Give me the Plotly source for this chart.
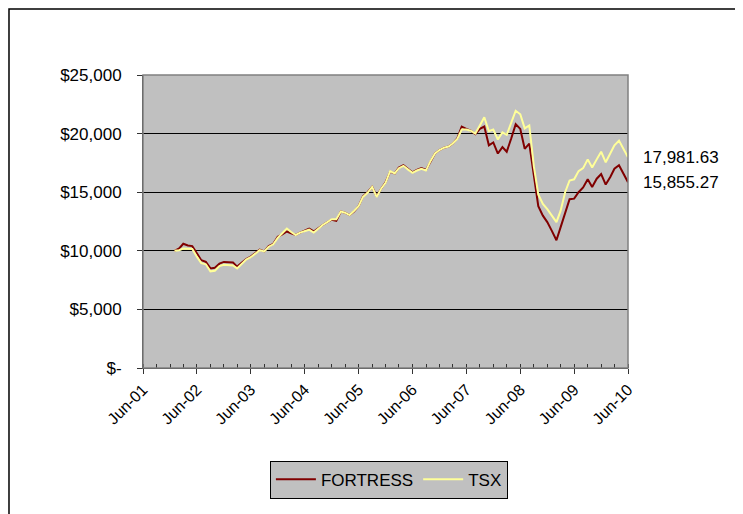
import plotly.graph_objects as go
import pandas as pd

start_month = "2002-01-01"
fortress = [10000, 10200, 10600, 10450, 10400, 9800, 9200, 9050, 8500, 8550, 8900, 9050,
            9000, 9000, 8650, 9000, 9300, 9500, 9800, 10100, 9950, 10400, 10600, 11200,
            11400, 11650, 11500, 11350, 11550, 11750, 11900, 11650, 11950, 12200, 12450, 12650,
            12550, 13350, 13250, 13050, 13350, 13800, 14650, 15000, 15450, 14650, 15300, 15850,
            16750, 16600, 17100, 17300, 17000, 16700, 16900, 17050, 16900, 17650, 18300, 18600,
            18800, 18900, 19150, 19600, 20600, 20400, 20250, 19950, 20400, 20600, 19000, 19250,
            18300, 18850, 18450, 19600, 20800, 20400, 18700, 19150, 16200, 13800, 13000, 12450,
            11700, 10900, 12000, 13300, 14400, 14450, 15000, 15400, 16100, 15450, 16150, 16550,
            15650, 16300, 17000, 17300, 16600, 15855.27]
tsx = [10000, 10050, 10200, 10150, 10150, 9500, 8950, 8850, 8250, 8300, 8700, 8800,
       8800, 8750, 8500, 8850, 9250, 9450, 9750, 10050, 9950, 10350, 10550, 11100,
       11500, 11900, 11600, 11350, 11550, 11700, 11800, 11550, 11900, 12200, 12450, 12700,
       12700, 13350, 13250, 13050, 13400, 13800, 14600, 14950, 15450, 14600, 15300, 15800,
       16800, 16600, 17050, 17250, 16950, 16650, 16850, 17000, 16850, 17650, 18300, 18600,
       18800, 18900, 19150, 19550, 20350, 20350, 20250, 20000, 20700, 21400, 20200, 20350,
       19500, 20100, 19900, 21000, 21950, 21650, 20450, 20700, 17200, 14800, 14000, 13550,
       13000, 12450, 13400, 15000, 16000, 16100, 16800, 17050, 17800, 17100, 17800, 18450,
       17550, 18350, 19000, 19400, 18700, 17981.63]
series_names = ["FORTRESS", "TSX"]
series_colors = ["#800000", "#FFFF99"]
y_ticks = [0, 5000, 10000, 15000, 20000, 25000]
y_labels = ["$-", "$5,000", "$10,000", "$15,000", "$20,000", "$25,000"]
x_tick_years = list(range(2001, 2011))

dates = pd.date_range(start_month, periods=len(fortress), freq="MS")

fig = go.Figure()
for name, vals, col in zip(series_names, [fortress, tsx], series_colors):
    fig.add_trace(go.Scatter(x=dates, y=vals, mode="lines", name=name,
                             line=dict(color=col, width=2)))

for vals in [tsx, fortress]:
    fig.add_annotation(xref="paper", yref="y", x=1.026, y=vals[-1],
                       text=f"{vals[-1]:,.2f}", showarrow=False, xanchor="left",
                       yanchor="middle", font=dict(size=17, color="black"))

# outer chart border
fig.add_shape(type="rect", xref="paper", yref="paper", x0=-0.2763, x1=1.2268,
              y0=-0.56, y1=1.2253, line=dict(color="black", width=1.5), layer="below")

tickvals = [f"{y}-06-01" for y in x_tick_years]
ticktext = [f"Jun-{str(y)[2:]}" for y in x_tick_years]

fig.update_layout(
    width=735, height=506,
    margin=dict(l=135, r=115, t=67, b=146),
    paper_bgcolor="white", plot_bgcolor="#C0C0C0",
    font=dict(family="Liberation Sans, Arial", size=16, color="black"),
    showlegend=True,
    legend=dict(orientation="h", x=0.507, xanchor="center", y=-0.381, yanchor="middle",
                bgcolor="#C0C0C0", bordercolor="black", borderwidth=1,
                font=dict(size=17), itemwidth=40, tracegroupgap=0),
    xaxis=dict(type="date", range=["2001-06-01", "2010-06-01"],
               tickvals=tickvals, ticktext=ticktext, tickangle=-45,
               ticks="outside", ticklen=5, tickcolor="#333", showgrid=False,
               showline=True, linecolor="#333", linewidth=1, zeroline=False,
               tickfont=dict(size=16),
               minor=dict(dtick="M3", tick0="2001-06-01", ticks="inside", ticklen=4,
                          tickcolor="#333", showgrid=False)),
    yaxis=dict(range=[0, 25000], tickvals=y_ticks, ticktext=y_labels,
               ticks="outside", ticklen=5, tickcolor="#333", showgrid=True,
               gridcolor="black", gridwidth=1, showline=True, linecolor="#333",
               linewidth=1, zeroline=False, tickfont=dict(size=17),
               ticklabelstandoff=12),
)
# gray plot-area frame on top and right
fig.add_shape(type="rect", xref="paper", yref="paper", x0=0, x1=1, y0=0, y1=1,
              line=dict(color="#808080", width=1.5))

fig.write_html("out.html")
